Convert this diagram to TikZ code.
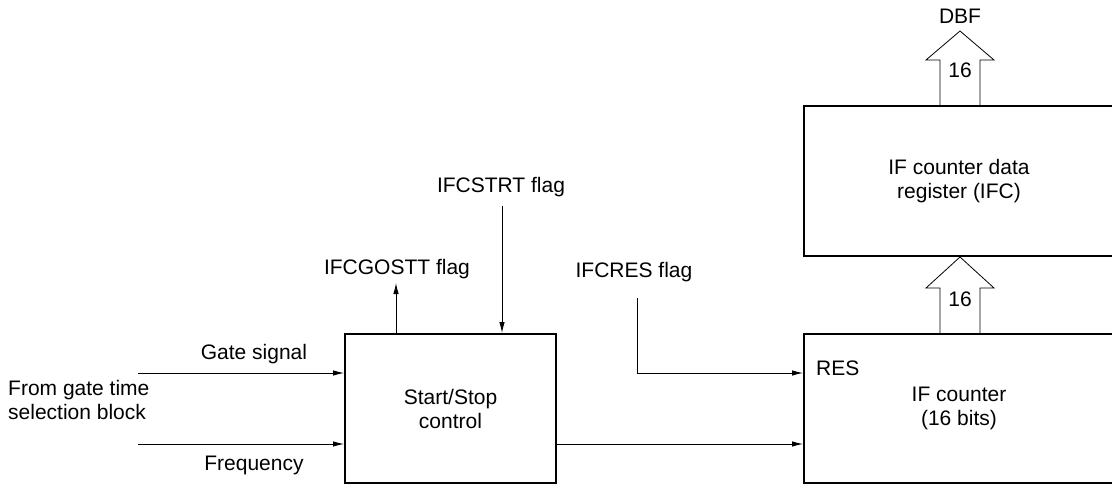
\documentclass[tikz,border=0pt]{standalone}
\usepackage{fontspec}
\setmainfont{Liberation Sans}
\usetikzlibrary{arrows.meta}
\begin{document}
\begin{tikzpicture}[x=1pt,y=-1pt,
  font=\fontsize{21}{24}\selectfont,
  blk/.style={draw, line width=2pt, inner sep=0pt, align=center},
  conn/.style={line width=0.9pt, -{Latex[length=11pt,width=5.5pt]}},
  fat/.style={line width=0.8pt},
  lbl/.style={inner sep=0pt, anchor=base}]
\useasboundingbox (0,0) rectangle (1112,484);
\clip (0,0) rectangle (1112,484);
% blocks
\node[blk, minimum width=211pt, minimum height=149pt] (ss) at (450.5,408.5) {Start/Stop\\control};
\node[blk, minimum width=310pt, minimum height=149pt] (cnt) at (959,408.5) {IF counter\\(16 bits)};
\node[blk, minimum width=310pt, minimum height=150pt] (reg) at (959,181) {IF counter data\\ register (IFC)};
% labels
\node[inner sep=0pt, anchor=west, align=left] (from) at (8,399.5) {From gate time\\selection block};
\node[lbl] (gatel) at (254,359) {Gate signal};
\node[lbl] (freql) at (254,470) {Frequency};
\node[lbl] (strtl) at (501,193) {IFCSTRT flag};
\node[lbl] (gosttl) at (397,274) {IFCGOSTT flag};
\node[lbl] (resl) at (634,277) {IFCRES flag};
\node[lbl, anchor=base west] (resin) at (816,375) {RES};
\node[lbl] (dbf) at (960,24) {DBF};
\node[lbl] (w16a) at (960,78) {16};
\node[lbl] (w16b) at (960,306) {16};
% helper coordinates
\coordinate (g0) at (138,373);
\coordinate (f0) at (138,444);
\coordinate (oy) at (0,444);
\coordinate (gostt) at (396,283);
\coordinate (strt) at (502,206);
\coordinate (res) at (637,298);
\coordinate (resy) at (0,373);
% connectors
\draw[conn] (g0) -- (g0 -| ss.west);
\draw[conn] (f0) -- (f0 -| ss.west);
\draw[conn] (ss.east |- oy) -- (cnt.west |- oy);
\draw[conn] (gostt |- ss.north) -- (gostt);
\draw[conn] (strt) -- (strt |- ss.north);
\draw[conn] (res) |- (cnt.west |- resy);
% wide bus arrows
\draw[fat] (940,334) -- (940,288) -- (926,288) -- (960,257) -- (994,288) -- (980,288) -- (980,334);
\draw[fat] (940,106) -- (940,60) -- (926,60) -- (960,31) -- (994,60) -- (980,60) -- (980,106);
\end{tikzpicture}
\end{document}
